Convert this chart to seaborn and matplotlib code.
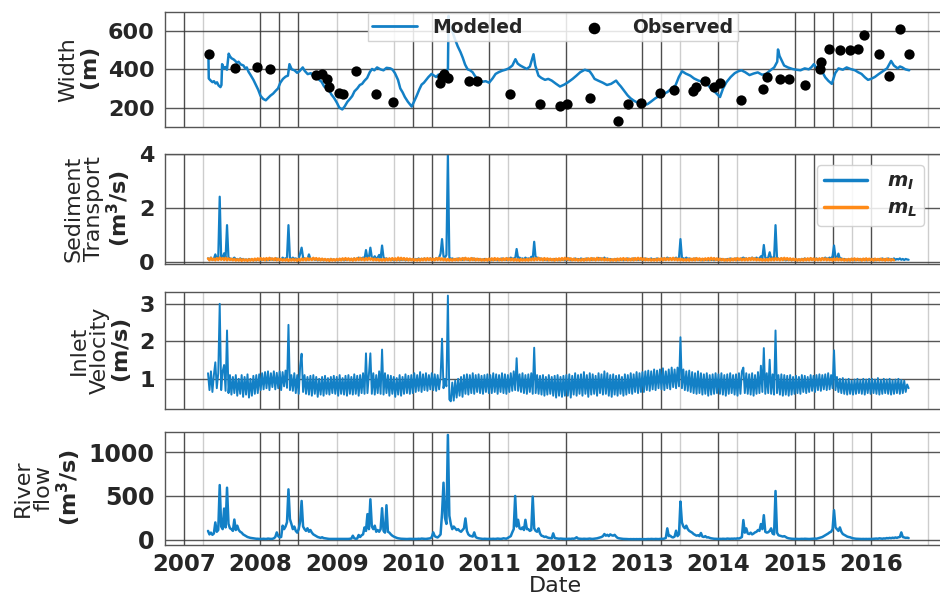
import numpy as np
import pandas as pd
import matplotlib
matplotlib.use("Agg")
import matplotlib.pyplot as plt
import seaborn as sns

# ---------------- channel width ----------------
# observed inlet width (decimal year, m)
obs_year = [2007.33, 2007.66, 2007.96, 2008.12, 2008.73, 2008.81, 2008.87, 2008.90,
            2009.03, 2009.08, 2009.25, 2009.51, 2009.73, 2010.35, 2010.38, 2010.40,
            2010.45, 2010.73, 2010.83, 2011.27, 2011.66, 2011.92, 2012.02, 2012.32,
            2012.68, 2012.81, 2012.98, 2013.23, 2013.42, 2013.66, 2013.71, 2013.82,
            2013.94, 2014.02, 2014.30, 2014.58, 2014.63, 2014.80, 2014.93, 2015.13,
            2015.33, 2015.35, 2015.45, 2015.59, 2015.72, 2015.83, 2015.91, 2016.11,
            2016.23, 2016.38, 2016.50]
obs_width = [482, 407, 410, 400, 371, 374, 350, 310,
             278, 269, 390, 269, 228, 330, 360, 375,
             355, 340, 340, 269, 218, 207, 218, 250,
             127, 218, 226, 276, 290, 287, 310, 341,
             307, 328, 238, 298, 359, 347, 347, 319,
             401, 439, 508, 500, 500, 508, 580, 479,
             367, 611, 482]

# modelled inlet width (decimal year, m)
model_year = [
    2007.318, 2007.322, 2007.35, 2007.37, 2007.39, 2007.41, 2007.43, 2007.45, 2007.475, 2007.488,
    2007.497, 2007.52, 2007.54, 2007.56, 2007.583, 2007.60, 2007.62, 2007.648, 2007.67, 2007.69,
    2007.712, 2007.74, 2007.777, 2007.80, 2007.82, 2007.842, 2007.87, 2007.907, 2007.94, 2007.971,
    2008.00, 2008.036, 2008.07, 2008.10, 2008.13, 2008.166, 2008.20, 2008.23, 2008.26, 2008.295,
    2008.33, 2008.36, 2008.38, 2008.41, 2008.446, 2008.48, 2008.511, 2008.554, 2008.58, 2008.619,
    2008.66, 2008.705, 2008.74, 2008.77, 2008.80, 2008.835, 2008.87, 2008.90, 2008.93, 2008.965,
    2009.00, 2009.03, 2009.07, 2009.10, 2009.137, 2009.17, 2009.20, 2009.23, 2009.267, 2009.30,
    2009.33, 2009.36, 2009.396, 2009.43, 2009.46, 2009.49, 2009.526, 2009.57, 2009.61, 2009.65,
    2009.70, 2009.73, 2009.76, 2009.80, 2009.83, 2009.86, 2009.89, 2009.93, 2009.98,
    2010.01, 2010.044, 2010.08, 2010.11, 2010.14, 2010.17, 2010.20, 2010.24, 2010.27, 2010.30,
    2010.33, 2010.368, 2010.40, 2010.43, 2010.455, 2010.463, 2010.47, 2010.52, 2010.55, 2010.584,
    2010.62, 2010.65, 2010.68, 2010.713, 2010.745, 2010.778, 2010.81, 2010.843, 2010.875, 2010.908,
    2010.95,
    2010.994, 2011.04, 2011.08, 2011.12, 2011.167, 2011.21, 2011.253, 2011.30, 2011.34, 2011.37,
    2011.404, 2011.45, 2011.49, 2011.53, 2011.577, 2011.60, 2011.642, 2011.68, 2011.728, 2011.77,
    2011.816, 2011.87, 2011.924, 2011.98,
    2012.032, 2012.09, 2012.14, 2012.19, 2012.25, 2012.313, 2012.345, 2012.378, 2012.43, 2012.486,
    2012.54, 2012.594, 2012.66, 2012.69, 2012.723, 2012.77, 2012.81, 2012.85, 2012.896, 2012.96,
    2013.025, 2013.07, 2013.112, 2013.17, 2013.22, 2013.28, 2013.33, 2013.38, 2013.436, 2013.48,
    2013.522, 2013.57, 2013.63, 2013.68, 2013.738, 2013.79, 2013.846, 2013.90, 2013.954,
    2014.02, 2014.06, 2014.105, 2014.16, 2014.213, 2014.26, 2014.30, 2014.35, 2014.407, 2014.46,
    2014.515, 2014.57, 2014.623, 2014.68, 2014.73, 2014.77, 2014.78, 2014.80, 2014.86, 2014.91,
    2014.968,
    2015.02, 2015.076, 2015.13, 2015.184, 2015.22, 2015.25, 2015.29, 2015.335, 2015.37, 2015.40,
    2015.44, 2015.486, 2015.53, 2015.573, 2015.63, 2015.68, 2015.73, 2015.79, 2015.83, 2015.875,
    2015.92, 2015.96,
    2016.00, 2016.05, 2016.10, 2016.156, 2016.21, 2016.263, 2016.30, 2016.35, 2016.38, 2016.41,
    2016.45, 2016.50]
model_width = [
    462, 352, 340, 333, 338, 326, 332, 316, 307, 318,
    427, 405, 412, 398, 482, 468, 458, 452, 444, 434,
    440, 426, 420, 404, 410, 388, 370, 345, 318, 292,
    262, 245, 238, 250, 262, 273, 288, 300, 330, 350,
    362, 367, 427, 400, 395, 382, 390, 410, 392, 375,
    380, 358, 362, 345, 335, 310, 300, 290, 268, 250,
    225, 200, 190, 205, 230, 245, 260, 285, 300, 318,
    324, 340, 355, 385, 402, 395, 410, 400, 395, 408,
    405, 398, 380, 345, 300, 280, 255, 230, 205,
    230, 260, 295, 320, 330, 345, 360, 376, 368, 360,
    372, 376, 385, 393, 400, 680, 640, 590, 555, 520,
    490, 460, 425, 400, 395, 385, 365, 350, 342, 335,
    338,
    330, 352, 376, 385, 393, 398, 405, 420, 453, 430,
    420, 410, 402, 415, 479, 420, 367, 355, 345, 350,
    341, 325, 310, 320,
    333, 350, 367, 385, 398, 390, 372, 350, 340, 330,
    318, 324, 341, 325, 310, 285, 264, 248, 235, 222,
    213, 218, 230, 248, 260, 272, 281, 298, 316, 360,
    390, 378, 367, 352, 341, 335, 325, 300, 281,
    255, 300, 333, 360, 380, 390, 395, 385, 370, 378,
    384, 372, 376, 395, 410, 440, 504, 470, 420, 410,
    402,
    398, 395, 405, 400, 412, 427, 405, 400, 380, 358,
    340, 324, 380, 405, 398, 410, 402, 395, 385, 376,
    358, 345,
    350, 360, 375, 390, 405, 444, 420, 405, 415, 410,
    400, 395]

# ---------------- weekly model output (from 2007-04-25) ----------------
weekly_start = "2007-04-25"

# inlet velocity (m/s)
velocity = [
    # 2007
    1.15, 0.70, 1.20, 0.65, 1.10, 1.44, 0.75, 1.15, 3.00, 0.70,
    1.20, 1.37, 0.68, 2.29, 0.62, 1.10, 0.58, 1.05, 0.62, 1.10,
    0.55, 1.00, 0.60, 1.10, 0.52, 1.05, 0.58, 1.12, 0.50, 1.00,
    0.55, 1.08, 0.60, 1.10, 0.62, 1.12,
    # 2008
    0.70, 1.15, 0.72, 1.18, 0.75, 1.20, 0.70, 1.15, 0.78, 1.20,
    0.72, 1.16, 0.75, 1.20, 0.70, 1.18, 0.80, 1.22, 0.76, 2.44,
    0.70, 1.10, 0.68, 1.15, 0.62, 1.10, 0.60, 1.35, 1.67, 0.65,
    1.10, 0.60, 1.05, 0.58, 1.08, 0.55, 1.10, 0.60, 1.05, 0.52,
    1.00, 0.58, 1.05, 0.55, 1.08, 0.60, 1.02, 0.58, 1.05, 0.62,
    1.08, 0.60,
    # 2009
    1.05, 0.55, 1.10, 0.60, 1.02, 0.58, 1.08, 0.55, 1.10, 0.60,
    1.05, 0.58, 1.12, 0.60, 1.08, 0.55, 1.10, 0.62, 1.15, 0.60,
    1.68, 0.62, 1.12, 1.68, 0.60, 1.15, 0.58, 1.10, 0.62, 1.20,
    0.60, 1.78, 0.58, 1.15, 0.62, 1.10, 0.55, 1.08, 0.60, 1.05,
    0.52, 1.02, 0.58, 1.10, 0.55, 1.05, 0.60, 1.12, 0.62, 1.08,
    0.60, 1.10,
    # 2010
    0.62, 1.15, 0.65, 1.10, 0.68, 1.18, 0.65, 1.12, 0.70, 1.15,
    0.68, 1.10, 0.72, 1.15, 0.70, 1.12, 0.68, 1.10, 0.72, 1.05,
    2.07, 0.75, 1.00, 0.80, 3.22, 0.45, 0.40, 0.90, 0.42, 0.95,
    0.50, 1.00, 0.55, 1.05, 0.52, 1.10, 0.60, 1.12, 0.58, 1.10,
    0.62, 1.15, 0.60, 1.10, 0.65, 1.12, 0.62, 1.08, 0.60, 1.10,
    0.65, 1.12, 0.62,
    # 2011
    1.10, 0.62, 1.15, 0.65, 1.12, 0.60, 1.10, 0.65, 1.15, 0.62,
    1.12, 0.60, 1.10, 0.65, 1.15, 0.68, 1.20, 0.70, 1.55, 0.68,
    1.12, 0.65, 1.15, 0.62, 1.10, 0.60, 1.12, 0.65, 1.15, 0.60,
    1.83, 0.62, 1.10, 0.60, 1.08, 0.58, 1.10, 0.55, 1.05, 0.58,
    1.10, 0.60, 1.05, 0.55, 1.08, 0.50, 1.10, 0.55, 1.05, 0.52,
    1.08, 0.55,
    # 2012
    1.10, 0.55, 1.12, 0.50, 1.08, 0.58, 1.15, 0.55, 1.10, 0.60,
    1.12, 0.55, 1.18, 0.60, 1.10, 0.52, 1.15, 0.58, 1.12, 0.60,
    1.08, 0.55, 1.15, 0.62, 1.12, 0.58, 1.20, 0.60, 1.15, 0.55,
    1.10, 0.52, 1.12, 0.58, 1.08, 0.55, 1.10, 0.60, 1.05, 0.55,
    1.12, 0.58, 1.10, 0.62, 1.15, 0.60, 1.12, 0.65, 1.18, 0.62,
    1.15, 0.65,
    # 2013
    1.18, 0.65, 1.20, 0.70, 1.22, 0.68, 1.20, 0.72, 1.25, 0.70,
    1.22, 0.75, 1.25, 0.72, 1.28, 0.70, 1.20, 0.75, 1.25, 0.72,
    1.30, 0.78, 1.25, 0.75, 1.30, 0.80, 2.11, 0.75, 1.25, 0.70,
    1.20, 0.68, 1.22, 0.65, 1.18, 0.62, 1.15, 0.60, 1.20, 0.62,
    1.15, 0.58, 1.12, 0.60, 1.15, 0.55, 1.10, 0.58, 1.12, 0.60,
    1.15, 0.62,
    # 2014
    1.12, 0.60, 1.15, 0.58, 1.10, 0.55, 1.12, 0.60, 1.15, 0.62,
    1.10, 0.58, 1.12, 0.55, 1.15, 0.60, 1.20, 1.30, 0.62, 1.15,
    0.60, 1.12, 0.58, 1.15, 0.55, 1.10, 0.60, 1.18, 0.62, 1.35,
    0.65, 1.82, 0.60, 1.15, 0.62, 1.51, 0.60, 1.12, 0.58, 2.29,
    0.62, 1.10, 0.58, 1.12, 0.55, 1.10, 0.58, 1.08, 0.55, 1.10,
    0.58, 1.05,
    # 2015
    0.60, 1.08, 0.62, 1.05, 0.60, 1.10, 0.65, 1.08, 0.62, 1.05,
    0.65, 1.10, 0.68, 1.08, 0.65, 1.10, 0.70, 1.12, 0.68, 1.10,
    0.72, 1.12, 0.70, 1.15, 0.72, 1.10, 0.75, 1.76, 0.70, 1.05,
    0.65, 1.00, 0.62, 1.02, 0.60, 0.98, 0.58, 1.00, 0.60, 0.95,
    0.58, 0.98, 0.60, 1.00, 0.62, 0.97, 0.60, 1.00, 0.58, 0.98,
    0.62, 1.00, 0.60,
    # 2016
    1.00, 0.62, 0.98, 0.60, 1.02, 0.58, 0.97, 0.60, 1.00, 0.62,
    0.98, 0.60, 1.00, 0.58, 0.96, 0.60, 0.98, 0.62, 1.00, 0.60,
    0.97, 0.62, 0.95, 0.65, 0.85, 0.75]

# sediment transport through the inlet, m_I (m3/s)
sed_inlet = [
    # 2007
    0.12, 0.08, 0.15, 0.06, 0.10, 0.27, 0.10, 0.12, 2.42, 0.10,
    0.15, 0.31, 0.12, 1.36, 0.10, 0.12, 0.08, 0.10, 0.15, 0.08,
    0.10, 0.06, 0.12, 0.08, 0.10, 0.06, 0.08, 0.05, 0.10, 0.06,
    0.08, 0.05, 0.07, 0.05, 0.08, 0.06,
    # 2008
    0.05, 0.08, 0.06, 0.10, 0.05, 0.08, 0.06, 0.12, 0.07, 0.10,
    0.06, 0.12, 0.08, 0.10, 0.07, 0.15, 0.10, 0.12, 0.15, 1.36,
    0.12, 0.10, 0.15, 0.10, 0.12, 0.08, 0.10, 0.30, 0.52, 0.15,
    0.12, 0.10, 0.08, 0.27, 0.10, 0.08, 0.12, 0.06, 0.10, 0.05,
    0.08, 0.06, 0.10, 0.05, 0.07, 0.06, 0.08, 0.05, 0.10, 0.06,
    0.08, 0.05,
    # 2009
    0.07, 0.05, 0.08, 0.06, 0.10, 0.05, 0.08, 0.06, 0.10, 0.07,
    0.08, 0.06, 0.12, 0.07, 0.10, 0.15, 0.08, 0.12, 0.15, 0.10,
    0.43, 0.12, 0.15, 0.52, 0.15, 0.12, 0.20, 0.10, 0.15, 0.25,
    0.12, 0.60, 0.15, 0.10, 0.12, 0.08, 0.10, 0.06, 0.08, 0.05,
    0.08, 0.06, 0.10, 0.05, 0.08, 0.06, 0.10, 0.05, 0.08, 0.06,
    0.10, 0.07,
    # 2010
    0.08, 0.06, 0.10, 0.07, 0.12, 0.06, 0.10, 0.08, 0.12, 0.07,
    0.10, 0.08, 0.12, 0.06, 0.10, 0.08, 0.12, 0.10, 0.15, 0.30,
    0.84, 0.20, 0.15, 0.25, 4.00, 0.15, 0.10, 0.12, 0.08, 0.10,
    0.06, 0.12, 0.08, 0.10, 0.06, 0.12, 0.08, 0.10, 0.06, 0.10,
    0.08, 0.12, 0.06, 0.10, 0.08, 0.10, 0.06, 0.08, 0.05, 0.10,
    0.06, 0.08, 0.05,
    # 2011
    0.08, 0.05, 0.10, 0.06, 0.08, 0.05, 0.10, 0.06, 0.12, 0.07,
    0.10, 0.06, 0.12, 0.08, 0.15, 0.10, 0.12, 0.10, 0.47, 0.12,
    0.15, 0.10, 0.12, 0.08, 0.15, 0.10, 0.12, 0.08, 0.18, 0.10,
    0.74, 0.12, 0.15, 0.10, 0.12, 0.08, 0.10, 0.06, 0.08, 0.05,
    0.10, 0.06, 0.08, 0.05, 0.10, 0.06, 0.08, 0.05, 0.10, 0.06,
    0.08, 0.05,
    # 2012
    0.10, 0.06, 0.12, 0.05, 0.08, 0.06, 0.12, 0.07, 0.10, 0.06,
    0.12, 0.07, 0.10, 0.06, 0.12, 0.08, 0.10, 0.06, 0.12, 0.07,
    0.10, 0.08, 0.14, 0.07, 0.12, 0.08, 0.15, 0.07, 0.12, 0.06,
    0.10, 0.05, 0.08, 0.06, 0.10, 0.05, 0.08, 0.06, 0.10, 0.05,
    0.08, 0.06, 0.12, 0.07, 0.10, 0.06, 0.12, 0.07, 0.10, 0.06,
    0.10, 0.07,
    # 2013
    0.10, 0.06, 0.12, 0.07, 0.10, 0.08, 0.12, 0.07, 0.10, 0.08,
    0.12, 0.08, 0.10, 0.07, 0.12, 0.08, 0.10, 0.15, 0.10, 0.12,
    0.08, 0.12, 0.10, 0.15, 0.10, 0.12, 0.84, 0.15, 0.12, 0.10,
    0.15, 0.10, 0.12, 0.08, 0.10, 0.06, 0.12, 0.08, 0.10, 0.06,
    0.08, 0.05, 0.10, 0.06, 0.08, 0.05, 0.10, 0.06, 0.08, 0.05,
    0.10, 0.06,
    # 2014
    0.08, 0.05, 0.10, 0.06, 0.08, 0.05, 0.10, 0.07, 0.12, 0.06,
    0.10, 0.07, 0.12, 0.06, 0.10, 0.08, 0.12, 0.15, 0.10, 0.12,
    0.08, 0.12, 0.10, 0.15, 0.10, 0.12, 0.15, 0.10, 0.12, 0.20,
    0.12, 0.62, 0.15, 0.12, 0.15, 0.35, 0.12, 0.15, 0.10, 1.36,
    0.15, 0.10, 0.08, 0.12, 0.06, 0.10, 0.05, 0.08, 0.06, 0.10,
    0.05, 0.08,
    # 2015
    0.06, 0.10, 0.05, 0.08, 0.06, 0.10, 0.07, 0.12, 0.06, 0.10,
    0.07, 0.12, 0.06, 0.10, 0.08, 0.12, 0.07, 0.10, 0.08, 0.12,
    0.10, 0.15, 0.10, 0.12, 0.15, 0.10, 0.20, 0.60, 0.15, 0.12,
    0.30, 0.10, 0.12, 0.08, 0.10, 0.06, 0.08, 0.05, 0.08, 0.06,
    0.10, 0.05, 0.08, 0.06, 0.10, 0.05, 0.08, 0.06, 0.10, 0.05,
    0.08, 0.06, 0.10,
    # 2016
    0.06, 0.10, 0.05, 0.08, 0.06, 0.10, 0.07, 0.12, 0.06, 0.10,
    0.07, 0.12, 0.06, 0.10, 0.08, 0.12, 0.07, 0.10, 0.08, 0.12,
    0.07, 0.10, 0.06, 0.10, 0.08, 0.07]

# longshore sediment transport, m_L (m3/s)
sed_longshore = [
    0.12, 0.05, 0.14, 0.06, 0.11, 0.05, 0.13, 0.06, 0.15, 0.07,
    0.13, 0.06, 0.14, 0.05, 0.12, 0.06, 0.11, 0.05, 0.10, 0.04,
    0.09, 0.04, 0.10, 0.03, 0.09, 0.04, 0.08, 0.03, 0.09, 0.04,
    0.10, 0.04, 0.11, 0.05, 0.12, 0.05, 0.13, 0.06, 0.12, 0.05,
    0.13, 0.06, 0.14, 0.07, 0.12, 0.06, 0.13, 0.05, 0.11, 0.05,
    0.10, 0.04, 0.09, 0.04, 0.10, 0.03, 0.09, 0.04, 0.10, 0.04,
    0.09, 0.03, 0.10, 0.04, 0.11, 0.05, 0.12, 0.05, 0.13, 0.06,
    0.12, 0.06, 0.14, 0.07, 0.13, 0.06, 0.12, 0.05, 0.11, 0.05,
    0.10, 0.04, 0.09, 0.03, 0.10, 0.04, 0.09, 0.04, 0.10, 0.05,
    0.11, 0.05, 0.12, 0.06, 0.13, 0.06, 0.12, 0.05, 0.11, 0.04,
    0.12, 0.05, 0.13, 0.06, 0.14, 0.06, 0.12, 0.05, 0.13, 0.06,
    0.14, 0.07, 0.12, 0.05, 0.11, 0.05, 0.10, 0.04, 0.09, 0.04,
    0.10, 0.04, 0.11, 0.05, 0.12, 0.05, 0.13, 0.06, 0.12, 0.05,
    0.15, 0.06, 0.14, 0.07, 0.13, 0.06, 0.12, 0.05, 0.11, 0.05,
    0.10, 0.04, 0.09, 0.04, 0.10, 0.04, 0.11, 0.05, 0.12, 0.05,
    0.13, 0.06, 0.12, 0.05, 0.11, 0.05, 0.13, 0.06, 0.14, 0.06,
    0.12, 0.05, 0.11, 0.04, 0.10, 0.04, 0.09, 0.04, 0.10, 0.05,
    0.11, 0.05, 0.12, 0.06, 0.13, 0.06, 0.14, 0.07, 0.12, 0.05,
    0.13, 0.06, 0.12, 0.05, 0.11, 0.05, 0.10, 0.04, 0.09, 0.04,
    0.10, 0.04, 0.11, 0.05, 0.12, 0.05, 0.13, 0.06, 0.12, 0.05,
    0.11, 0.05, 0.12, 0.06, 0.13, 0.06, 0.12, 0.05, 0.11, 0.04,
    0.10, 0.04, 0.09, 0.03, 0.10, 0.04, 0.09, 0.04, 0.10, 0.04,
    0.11, 0.05, 0.12, 0.05, 0.13, 0.06, 0.14, 0.06, 0.12, 0.05,
    0.13, 0.06, 0.12, 0.05, 0.11, 0.05, 0.10, 0.04, 0.11, 0.05,
    0.12, 0.05, 0.13, 0.06, 0.14, 0.07, 0.13, 0.06, 0.12, 0.05,
    0.11, 0.05, 0.10, 0.04, 0.09, 0.04, 0.10, 0.04, 0.11, 0.05,
    0.12, 0.05, 0.13, 0.06, 0.12, 0.05, 0.14, 0.06, 0.13, 0.06,
    0.12, 0.05, 0.11, 0.05, 0.10, 0.04, 0.09, 0.04, 0.10, 0.04,
    0.11, 0.05, 0.12, 0.06, 0.13, 0.06, 0.12, 0.05, 0.11, 0.05,
    0.12, 0.05, 0.13, 0.06, 0.14, 0.07, 0.13, 0.06, 0.12, 0.05,
    0.11, 0.05, 0.10, 0.04, 0.09, 0.04, 0.10, 0.04, 0.11, 0.05,
    0.12, 0.05, 0.13, 0.06, 0.12, 0.06, 0.13, 0.06, 0.14, 0.06,
    0.12, 0.05, 0.11, 0.05, 0.10, 0.04, 0.09, 0.04, 0.10, 0.04,
    0.11, 0.05, 0.12, 0.05, 0.13, 0.06, 0.12, 0.05, 0.11, 0.05,
    0.12, 0.06, 0.13, 0.06, 0.14, 0.07, 0.13, 0.06, 0.12, 0.05,
    0.11, 0.05, 0.10, 0.04, 0.09, 0.04, 0.10, 0.04, 0.11, 0.05,
    0.12, 0.05, 0.13, 0.06, 0.12, 0.05, 0.11, 0.05, 0.12, 0.05,
    0.13, 0.06, 0.14, 0.06, 0.12, 0.05, 0.11, 0.05, 0.10, 0.04,
    0.09, 0.04, 0.10, 0.04, 0.11, 0.05, 0.12, 0.05, 0.13, 0.06,
    0.12, 0.05, 0.13, 0.06, 0.14, 0.07, 0.13, 0.06, 0.12, 0.05,
    0.11, 0.05, 0.10, 0.04, 0.09, 0.04, 0.10, 0.04, 0.11, 0.05,
    0.12, 0.05, 0.13, 0.06, 0.12, 0.05, 0.11, 0.05, 0.12, 0.05,
    0.13, 0.06, 0.12, 0.05, 0.11, 0.05, 0.10, 0.04, 0.11, 0.05,
    0.12, 0.05, 0.11, 0.05, 0.10, 0.04, 0.09, 0.04, 0.10, 0.04,
    0.11, 0.05, 0.12, 0.05, 0.11, 0.05, 0.10, 0.04, 0.11, 0.05,
    0.12, 0.05, 0.11, 0.05, 0.10, 0.04, 0.11, 0.05, 0.10, 0.05,
    0.11, 0.05, 0.10, 0.04, 0.11, 0.05, 0.10, 0.04, 0.09, 0.05]

# river discharge (m3/s)
river_flow = [
    # 2007
    100, 60, 80, 55, 70, 197, 90, 110, 625, 150,
    120, 356, 140, 595, 180, 130, 120, 100, 230, 110,
    160, 110, 90, 80, 60, 50, 40, 30, 25, 20,
    18, 15, 12, 10, 10, 8,
    # 2008
    8, 8, 10, 8, 8, 12, 10, 8, 9, 15,
    30, 83, 40, 25, 30, 160, 120, 150, 200, 576,
    235, 180, 120, 150, 100, 80, 120, 208, 443, 150,
    120, 100, 130, 90, 110, 80, 60, 50, 40, 30,
    25, 20, 27, 18, 15, 12, 10, 8, 8, 7,
    8, 7,
    # 2009
    7, 8, 7, 8, 8, 7, 9, 8, 8, 10,
    12, 45, 15, 10, 12, 53, 30, 50, 60, 140,
    100, 292, 120, 462, 150, 120, 160, 90, 110, 90,
    120, 360, 100, 80, 394, 90, 80, 60, 45, 35,
    27, 20, 15, 12, 10, 9, 8, 8, 7, 8,
    9, 8,
    # 2010
    8, 8, 9, 8, 10, 8, 12, 10, 9, 8,
    10, 12, 15, 30, 83, 40, 30, 25, 40, 60,
    300, 652, 250, 180, 1200, 273, 178, 120, 150, 130,
    110, 120, 100, 90, 110, 130, 243, 100, 60, 45,
    40, 35, 83, 30, 20, 15, 12, 10, 8, 10,
    9, 8, 9,
    # 2011
    9, 8, 10, 8, 9, 12, 10, 8, 10, 15,
    12, 10, 20, 30, 40, 83, 120, 500, 150, 227,
    130, 120, 140, 110, 227, 120, 120, 100, 110, 493,
    130, 100, 90, 129, 70, 45, 40, 30, 35, 25,
    20, 18, 15, 72, 20, 15, 12, 10, 12, 10,
    9, 8,
    # 2012
    8, 9, 10, 8, 12, 10, 15, 27, 12, 10,
    9, 8, 10, 9, 8, 10, 12, 9, 8, 10,
    12, 15, 20, 25, 30, 40, 64, 45, 55, 40,
    60, 50, 45, 55, 35, 20, 15, 12, 10, 8,
    8, 7, 6, 5, 6, 5, 6, 5, 6, 5,
    6, 5,
    # 2013
    5, 6, 5, 6, 7, 6, 8, 7, 6, 8,
    7, 6, 8, 10, 9, 12, 20, 129, 40, 45,
    30, 25, 35, 102, 40, 60, 436, 197, 150, 130,
    160, 120, 100, 90, 80, 64, 55, 45, 50, 40,
    76, 35, 30, 40, 25, 27, 20, 15, 12, 10,
    9, 8,
    # 2014
    8, 9, 8, 10, 9, 8, 12, 10, 9, 11,
    10, 12, 10, 15, 12, 20, 30, 224, 80, 129,
    70, 64, 80, 60, 70, 83, 90, 110, 100, 178,
    120, 280, 90, 80, 85, 100, 129, 70, 60, 557,
    80, 50, 45, 40, 35, 40, 30, 20, 15, 12,
    10, 9,
    # 2015
    8, 9, 8, 7, 8, 9, 8, 10, 9, 8,
    7, 8, 9, 10, 12, 10, 15, 20, 25, 30,
    40, 50, 60, 70, 83, 90, 120, 337, 140, 120,
    100, 140, 90, 64, 55, 45, 35, 30, 27, 20,
    15, 12, 10, 9, 8, 8, 7, 8, 7, 8,
    7, 8, 7,
    # 2016
    8, 10, 9, 12, 10, 15, 12, 10, 14, 12,
    18, 15, 20, 16, 22, 18, 25, 20, 27, 30,
    83, 30, 25, 20, 22, 18]

year_ticks = list(range(2007, 2017))

# ---------------- styling ----------------
BLUE = "#1380c6"
ORANGE = "#ff8a17"

sns.set_style("white")
plt.rcParams["font.family"] = ["DejaVu Sans"]
plt.rcParams["mathtext.fontset"] = "dejavusans"

# vertical guide lines: (date, colour)
DARK, LIGHT = "#3a3a3a", "#c8c8c8"
guide_lines = [
    ("2007-01-01", DARK), ("2007-04-01", LIGHT), ("2008-01-01", DARK),
    ("2008-04-01", DARK), ("2008-07-01", DARK), ("2009-01-01", LIGHT),
    ("2009-10-01", LIGHT), ("2010-01-01", DARK), ("2010-04-01", DARK),
    ("2011-01-01", DARK), ("2011-04-01", LIGHT), ("2012-01-01", DARK),
    ("2013-01-01", DARK), ("2013-04-01", DARK), ("2013-07-01", LIGHT),
    ("2014-01-01", DARK), ("2014-04-01", LIGHT), ("2015-01-01", DARK),
    ("2015-04-01", DARK), ("2015-07-01", DARK), ("2015-10-01", LIGHT),
    ("2016-01-01", DARK), ("2016-10-01", LIGHT),
]


def to_date(y):
    y = np.asarray(y, dtype=float)
    yr = np.floor(y).astype(int)
    starts = pd.to_datetime([f"{v}-01-01" for v in yr])
    return starts + pd.to_timedelta((y - yr) * 365.25, unit="D")


def weekly(values):
    return pd.date_range(weekly_start, periods=len(values), freq="7D")


fig = plt.figure(figsize=(9.4, 6.03), dpi=100)
left, width = 0.1755, 0.8298
rects = [(left, 0.790, width, 0.190),
         (left, 0.563, width, 0.182),
         (left, 0.322, width, 0.194),
         (left, 0.097, width, 0.187)]
ax1 = fig.add_axes(rects[0])
ax2 = fig.add_axes(rects[1], sharex=ax1)
ax3 = fig.add_axes(rects[2], sharex=ax1)
ax4 = fig.add_axes(rects[3], sharex=ax1)
axes = [ax1, ax2, ax3, ax4]

# width panel
sns.lineplot(x=to_date(model_year), y=model_width, ax=ax1, color=BLUE, lw=1.8,
             estimator=None, label="Modeled")
sns.scatterplot(x=to_date(obs_year), y=obs_width, ax=ax1, color="black", s=55,
                linewidth=0, label="Observed", zorder=5)

# sediment panel
sns.lineplot(x=weekly(sed_inlet), y=sed_inlet, ax=ax2, color=BLUE, lw=1.6,
             estimator=None, label=r"$\mathbfit{m_I}$")
sns.lineplot(x=weekly(sed_longshore), y=sed_longshore, ax=ax2, color=ORANGE, lw=1.8,
             estimator=None, label=r"$\mathbfit{m_L}$")

# velocity panel
sns.lineplot(x=weekly(velocity), y=velocity, ax=ax3, color=BLUE, lw=1.4,
             estimator=None)

# river flow panel
sns.lineplot(x=weekly(river_flow), y=river_flow, ax=ax4, color=BLUE, lw=1.8,
             estimator=None)

# axes limits and ticks
ax1.set_xlim(pd.Timestamp("2006-11-13"), pd.Timestamp("2016-12-20"))
major = pd.to_datetime([f"{y}-01-01" for y in year_ticks])
minor = pd.date_range("2006-10-01", "2016-12-31", freq="QS")

ylims = [(100, 700), (-0.07, 4.02), (0.2, 3.32), (-56, 1236)]
yticks = [[200, 400, 600], [0, 2, 4], [1, 2, 3], [0, 500, 1000]]
ylabels = ["Width\n" + r"$\mathbf{(m)}$",
           "Sediment\nTransport\n" + r"$\mathbf{(m^3/s)}$",
           "Inlet\nVelocity\n" + r"$\mathbf{(m/s)}$",
           "River\nflow\n" + r"$\mathbf{(m^3/s)}$"]
ytick_sizes = [16, 16, 16, 17]

for ax, yl, yt, lab, ys in zip(axes, ylims, yticks, ylabels, ytick_sizes):
    ax.set_ylim(*yl)
    ax.set_yticks(yt)
    ax.set_yticklabels([str(v) for v in yt], fontweight="bold", fontsize=ys)
    ax.set_xticks(major)
    ax.set_xticks(minor, minor=True)
    ax.grid(which="major", axis="y", color=DARK, lw=1.0, alpha=0.85)
    for d, c in guide_lines:
        ax.axvline(pd.Timestamp(d), color=c, lw=1.0, alpha=0.9, zorder=0)
    ax.set_axisbelow(True)
    ax.tick_params(axis="both", which="major", length=4, width=1, color="#444444",
                   direction="out")
    ax.tick_params(axis="x", which="minor", length=2.5, width=0.8, color="#444444")
    for sp in ax.spines.values():
        sp.set_color("#555555")
        sp.set_linewidth(1.0)
    ax.set_ylabel(lab, fontsize=16, linespacing=1.05)
    ax.set_xlabel("")

for ax in axes[:3]:
    ax.tick_params(axis="x", labelbottom=False)

ax4.set_xticklabels([str(y) for y in year_ticks], fontweight="bold", fontsize=16.5)
ax4.tick_params(axis="x", which="major", pad=2)
ax4.set_xlabel("Date", fontsize=16, labelpad=0)

# legends
leg1 = ax1.legend(loc="upper center", bbox_to_anchor=(0.497, 1.075), ncol=2,
                  prop={"weight": "bold", "size": 13.5}, columnspacing=2.6,
                  handlelength=2.4, borderpad=0.25, frameon=True, framealpha=0.85,
                  edgecolor="#cccccc", fancybox=False)
leg1.legend_handles[0].set_linewidth(2.0)
leg1.legend_handles[1].set_sizes([70])

leg2 = ax2.legend(loc="upper right", bbox_to_anchor=(0.985, 0.985),
                  prop={"size": 14}, handlelength=2.2, handletextpad=1.0,
                  borderpad=0.35, labelspacing=0.35, frameon=True, framealpha=0.85,
                  edgecolor="#cccccc", fancybox=True)
for h in leg2.get_lines():
    h.set_linewidth(2.5)

fig.savefig("out.png", dpi=100)
